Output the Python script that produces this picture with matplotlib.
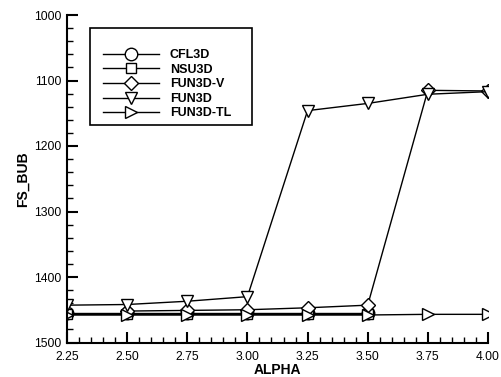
import matplotlib
matplotlib.use("Agg")
import matplotlib.pyplot as plt
from matplotlib.ticker import MultipleLocator
from matplotlib.patches import Rectangle

plt.rcParams['font.family'] = ['Liberation Sans', 'DejaVu Sans']

alpha = [2.25, 2.50, 2.75, 3.00, 3.25, 3.50, 3.75, 4.00]
alpha_v = [2.50, 2.75, 3.00, 3.25, 3.50, 3.75, 4.00]
alpha_cn = [2.25, 2.50, 2.75, 3.00, 3.25, 3.50]

cfl3d = [1455, 1455, 1455, 1455, 1455, 1455]
nsu3d = [1456, 1456, 1456, 1456, 1456, 1456]
fun3d_v = [1452, 1451, 1450, 1447, 1443, 1115, 1116]
fun3d = [1443, 1442, 1437, 1430, 1146, 1135, 1121, 1117]
fun3d_tl = [1458, 1458, 1458, 1458, 1458, 1458, 1457, 1457]

W, H = 501, 377
fig = plt.figure(figsize=(W / 100, H / 100), dpi=100)
ax = fig.add_axes([67 / W, 1 - 342.5 / H, (488 - 67) / W, (342.5 - 15) / H])

kw = dict(color='black', lw=1.0, mfc='white', mec='black', mew=1.0)
ax.plot(alpha_cn, cfl3d, marker='o', ms=9, label='CFL3D', **kw)
ax.plot(alpha_cn, nsu3d, marker='s', ms=6.5, label='NSU3D', **kw)
ax.plot(alpha_v, fun3d_v, marker='D', ms=7, label='FUN3D-V', **kw)
ax.plot(alpha, fun3d, marker='v', ms=9, label='FUN3D', **kw)
ax.plot(alpha, fun3d_tl, marker='>', ms=9, label='FUN3D-TL', **kw)

ax.set_xlim(2.25, 4.00)
ax.set_ylim(1500, 1000)
ax.xaxis.set_major_locator(MultipleLocator(0.25))
ax.xaxis.set_minor_locator(MultipleLocator(0.05))
ax.yaxis.set_major_locator(MultipleLocator(100))
ax.yaxis.set_minor_locator(MultipleLocator(20))
ax.xaxis.set_major_formatter(plt.FuncFormatter(lambda v, p: '%.2f' % v))
ax.tick_params(which='major', direction='in', length=8, width=1.5, labelsize=8.7)
ax.tick_params(which='minor', direction='in', length=4, width=1)
ax.tick_params(axis='x', pad=6)
ax.tick_params(axis='y', pad=4)
for s in ['top', 'right']:
    ax.spines[s].set_visible(False)
for s in ['left', 'bottom']:
    ax.spines[s].set_linewidth(1.5)

ax.set_xlabel('ALPHA', fontweight='bold', fontsize=10, labelpad=0)
ax.set_ylabel('FS_BUB', fontweight='bold', fontsize=10, labelpad=3)

leg = ax.legend(loc='upper left', bbox_to_anchor=(103 / W, 1 - 49 / H),
                bbox_transform=fig.transFigure, frameon=False,
                handlelength=4.5, prop={'weight': 'bold', 'size': 9},
                labelspacing=0.21, borderpad=0, borderaxespad=0,
                handletextpad=0.85)

fig.patches.append(Rectangle((90 / W, 1 - 125 / H), (252 - 90) / W, (125 - 28) / H,
                             transform=fig.transFigure, fill=False,
                             edgecolor='black', lw=1.2))

fig.savefig('out.png', dpi=100)
